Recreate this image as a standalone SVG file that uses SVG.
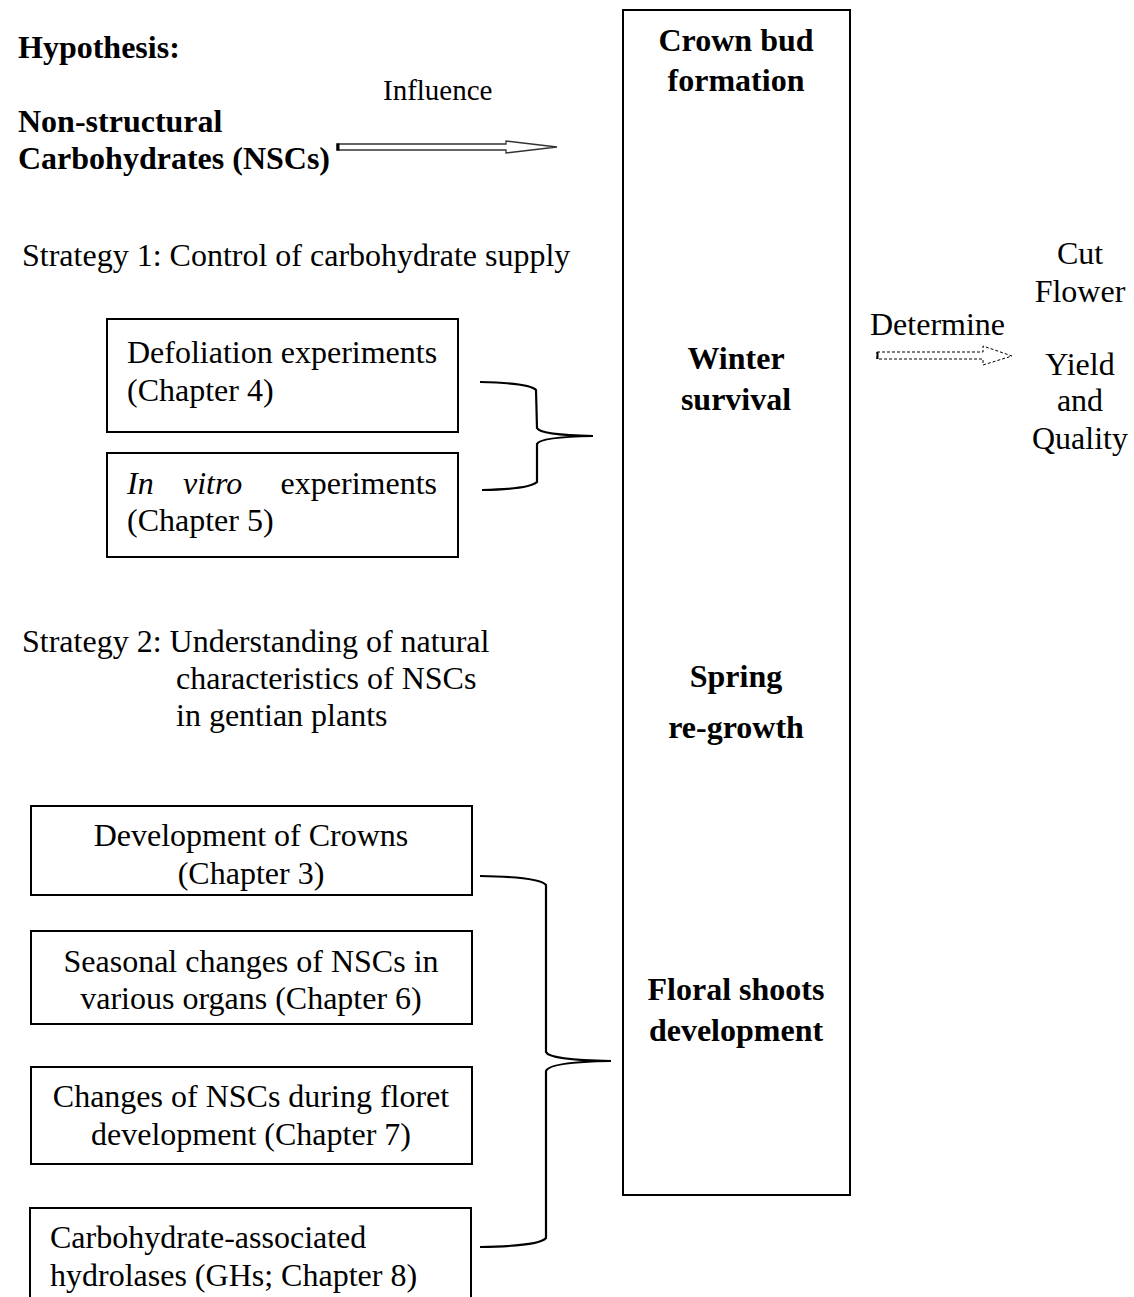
<svg xmlns="http://www.w3.org/2000/svg" width="1134" height="1297" viewBox="0 0 1134 1297">
<style>
text{font-family:"Liberation Serif","Times New Roman",serif;font-size:32px;fill:#000}
.b{font-weight:bold}
.m{text-anchor:middle}
.box{fill:#fff;stroke:#000;stroke-width:2}
.brace{fill:none;stroke:#000;stroke-width:2.2}
</style>
<rect width="1134" height="1297" fill="#fff"/>
<g id="hypothesis">
<text class="b" x="18" y="58">Hypothesis:</text>
<text class="b" x="18" y="132">Non-structural</text>
<text class="b" x="18" y="169">Carbohydrates (NSCs)</text>
</g>
<g id="stages">
<rect class="box" x="623" y="10" width="227" height="1185"/>
<text class="b m" x="736" y="51">Crown bud</text>
<text class="b m" x="736" y="91">formation</text>
<text class="b m" x="736" y="369">Winter</text>
<text class="b m" x="736" y="410">survival</text>
<text class="b m" x="736" y="687">Spring</text>
<text class="b m" x="736" y="738">re-growth</text>
<text class="b m" x="736" y="1000">Floral shoots</text>
<text class="b m" x="736" y="1041">development</text>
</g>
<g id="outcome">
<text class="m" x="1080" y="264">Cut</text>
<text class="m" x="1080" y="302">Flower</text>
<text class="m" x="1080" y="375">Yield</text>
<text class="m" x="1080" y="411">and</text>
<text class="m" x="1080" y="449">Quality</text>
</g>
<g id="strategy1">
<text x="22" y="266">Strategy 1: Control of carbohydrate supply</text>
</g>
<g id="defoliation">
<rect class="box" x="107" y="319" width="351" height="113"/>
<text x="127" y="363">Defoliation experiments</text>
<text x="127" y="401">(Chapter 4)</text>
</g>
<g id="invitro">
<rect class="box" x="107" y="453" width="351" height="104"/>
<text x="127" y="494"><tspan font-style="italic">In</tspan><tspan x="183" font-style="italic">vitro</tspan><tspan x="437" text-anchor="end">experiments</tspan></text>
<text x="127" y="531">(Chapter 5)</text>
</g>
<g id="strategy2">
<text x="22" y="652">Strategy 2: Understanding of natural</text>
<text x="176" y="689">characteristics of NSCs</text>
<text x="176" y="726">in gentian plants</text>
</g>
<g id="crowns">
<rect class="box" x="31" y="806" width="441" height="89"/>
<text class="m" x="251" y="846">Development of Crowns</text>
<text class="m" x="251" y="884">(Chapter 3)</text>
</g>
<g id="seasonal">
<rect class="box" x="31" y="931" width="441" height="93"/>
<text class="m" x="251" y="972">Seasonal changes of NSCs in</text>
<text class="m" x="251" y="1009">various organs (Chapter 6)</text>
</g>
<g id="floret">
<rect class="box" x="31" y="1067" width="441" height="97"/>
<text class="m" x="251" y="1107">Changes of NSCs during floret</text>
<text class="m" x="251" y="1145">development (Chapter 7)</text>
</g>
<g id="hydrolases">
<rect class="box" x="30" y="1208" width="441" height="110"/>
<text x="50" y="1248">Carbohydrate-associated</text>
<text x="50" y="1286">hydrolases (GHs; Chapter 8)</text>
</g>
<g id="connectors">
<polygon points="337,144 506,144 506,141 557,147 506,153 506,150 337,150" fill="#fff" stroke="#333" stroke-width="1.3"/>
<line x1="338" y1="143.5" x2="338" y2="150.5" stroke="#000" stroke-width="3"/>
<text x="383" y="100" style="font-size:29px">Influence</text>
<polygon points="877,352 983,352 983,346 1012,356 983,365 983,359 877,359" fill="#fff" stroke="#000" stroke-width="1" stroke-dasharray="3,2"/>
<line x1="877.5" y1="352" x2="877.5" y2="359" stroke="#000" stroke-width="2"/>
<text x="870" y="335">Determine</text>
<path class="brace" d="M480,382 Q530,383 536,390 L537,428 Q540,435 593,436 Q540,437 537,444 L537,482 Q530,489 482,490"/>
<path class="brace" d="M480,876 Q540,877 546,885 L546,1052 Q549,1060 611,1061 Q549,1062 546,1071 L546,1238 Q540,1246 480,1247"/>
</g>
</svg>
